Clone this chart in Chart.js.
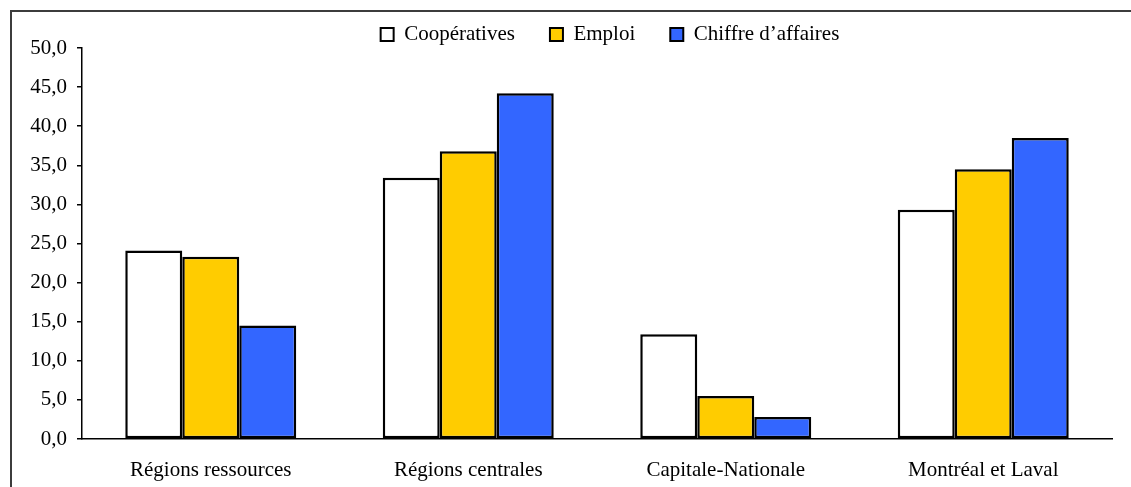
<!DOCTYPE html>
<html>
<head>
<meta charset="utf-8">
<script src="https://cdn.jsdelivr.net/npm/chart.js@4/dist/chart.umd.min.js"></script>
<style>
  html, body { margin: 0; padding: 0; background: #fff; }
  #wrap { width: 1131px; height: 487px; position: relative; }
</style>
</head>
<body>
<div id="wrap"><canvas id="c" width="1131" height="487"></canvas></div>
<script>
const categories = ["Régions ressources", "Régions centrales", "Capitale-Nationale", "Montréal et Laval"];
const seriesNames = ["Coopératives", "Emploi", "Chiffre d’affaires"];
const cooperatives = [24.1, 33.4, 13.4, 29.3];
const emploi = [23.3, 36.8, 5.5, 34.5];
const chiffreAffaires = [14.5, 44.2, 2.8, 38.5];
const yTicks = [0, 5, 10, 15, 20, 25, 30, 35, 40, 45, 50];

const FONT = "'Liberation Serif', 'Times New Roman', serif";

const framePlugin = {
  id: 'frame',
  beforeDraw(chart) {
    const ctx = chart.ctx;
    ctx.save();
    ctx.fillStyle = '#ffffff';
    ctx.fillRect(0, 0, chart.width, chart.height);
    ctx.fillStyle = '#3c3c3c';
    ctx.fillRect(10, 10, chart.width - 10, 2);
    ctx.fillRect(10, 10, 2, chart.height - 10);
    ctx.restore();
  },
  afterLayout(chart) {
    const lg = chart.legend;
    if (lg) {
      lg.left += 54; lg.right += 54;
      lg.top -= 11; lg.bottom = 70;
    }
  }
};

new Chart(document.getElementById('c'), {
  type: 'bar',
  data: {
    labels: categories,
    datasets: [
      { label: seriesNames[0], data: cooperatives, backgroundColor: '#FFFFFF' },
      { label: seriesNames[1], data: emploi, backgroundColor: '#FFCC00' },
      { label: seriesNames[2], data: chiffreAffaires, backgroundColor: '#3366FF' }
    ].map(d => Object.assign(d, { borderColor: '#000000', borderWidth: 2.5, borderSkipped: false,
                                  categoryPercentage: 0.664, barPercentage: 1.0 }))
  },
  options: {
    responsive: false,
    animation: false,
    devicePixelRatio: 1,
    layout: { padding: { left: 0, right: 19, top: 0, bottom: 0 } },
    plugins: {
      legend: {
        position: 'top',
        maxHeight: 48,
        labels: {
          font: { family: FONT, size: 21 },
          color: '#000',
          boxWidth: 13,
          boxHeight: 13,
          padding: 35,
          generateLabels(chart) {
            return chart.data.datasets.map((ds, i) => ({
              text: ds.label, fillStyle: ds.backgroundColor, strokeStyle: '#000',
              lineWidth: 2, hidden: false, datasetIndex: i, fontColor: '#000'
            }));
          }
        }
      },
      tooltip: { enabled: false }
    },
    scales: {
      x: {
        afterFit(scale) { scale.height = 48; },
        grid: { display: false, drawTicks: false },
        border: { display: true, color: '#000', width: 1.5 },
        ticks: { font: { family: FONT, size: 21 }, color: '#000', padding: 19, maxRotation: 0 }
      },
      y: {
        min: 0, max: 50,
        afterFit(scale) { scale.width = 82; },
        afterBuildTicks(scale) { scale.ticks = yTicks.map(v => ({ value: v })); },
        grid: { drawOnChartArea: false, drawTicks: true, tickLength: 5, color: '#000', lineWidth: 1.5 },
        border: { display: true, color: '#000', width: 1.5 },
        ticks: {
          font: { family: FONT, size: 21 }, color: '#000', padding: 10,
          callback: v => Number(v).toFixed(1).replace('.', ',')
        }
      }
    }
  },
  plugins: [framePlugin]
});
</script>
</body>
</html>
